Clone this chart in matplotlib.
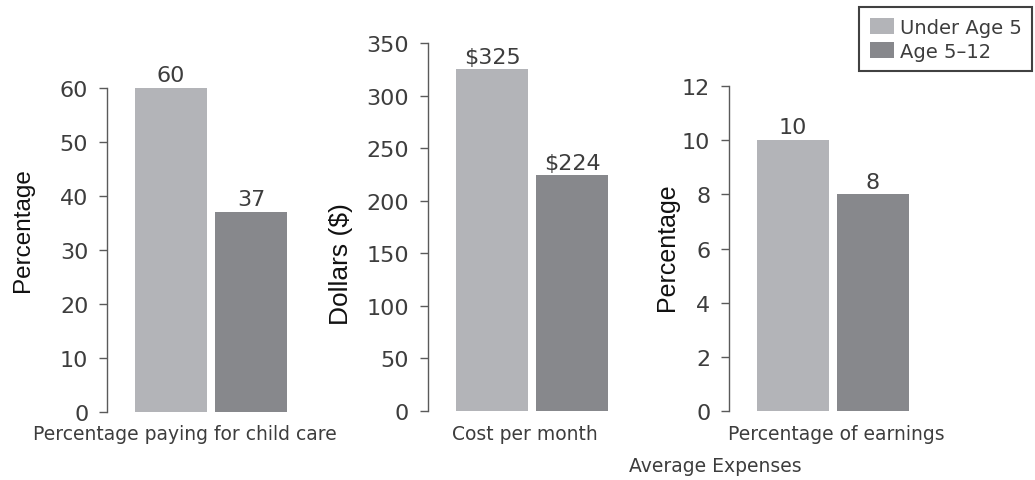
import matplotlib
matplotlib.use("Agg")
import matplotlib.pyplot as plt
from matplotlib.patches import Patch

plt.rcParams['font.family'] = ['DejaVu Sans']

# Data
groups = ["Under Age 5", "Age 5\u201312"]
panel_titles = ["Percentage paying for child care", "Cost per month", "Percentage of earnings"]
panel_ylabels = ["Percentage", "Dollars ($)", "Percentage"]
paying_pct = [60, 37]
monthly_cost = [325, 224]
earnings_pct = [10, 8]
value_labels = [["60", "37"], ["$325", "$224"], ["10", "8"]]
y_ticks = [list(range(0, 61, 10)), list(range(0, 351, 50)), list(range(0, 13, 2))]
xlabel_common = "Average Expenses"

colors = ["#b3b4b8", "#87888c"]
text_color = "#3d3d3d"
axis_color = "#5a5a5a"

W, H = 1035, 481
fig = plt.figure(figsize=(W / 100, H / 100), dpi=100)


def fx(px):
    return px / W


def fy(py):
    return 1 - py / H


# axes layout in pixels: (spine x, y of zero, y of top tick)
layout = [(107, 413, 89), (428, 412, 44), (729, 412, 87)]
unit_px = 80
x_left, x_right = -0.8, 1.7
series = [paying_pct, monthly_cost, earnings_pct]

for i, (sx, y0, ytop) in enumerate(layout):
    width_px = (x_right - x_left) * unit_px
    ax = fig.add_axes([fx(sx), fy(y0), fx(width_px), (y0 - ytop) / H])
    vals = series[i]
    ax.bar(range(len(vals)), vals, width=0.91, color=colors, edgecolor="none")
    ax.set_xlim(x_left, x_right)
    ax.set_ylim(y_ticks[i][0], y_ticks[i][-1])
    ax.set_yticks(y_ticks[i])
    ax.set_xticks([])
    for side in ("top", "right", "bottom"):
        ax.spines[side].set_visible(False)
    ax.spines["left"].set_color(axis_color)
    ax.spines["left"].set_linewidth(1.0)
    ax.tick_params(axis="y", direction="out", length=5.5, width=1.0,
                   color=axis_color, labelcolor=text_color, labelsize=16, pad=8)
    for j, v in enumerate(vals):
        ax.annotate(value_labels[i][j], (j, v), xytext=(0, 2), textcoords="offset points",
                    ha="center", va="bottom", fontsize=16, color=text_color,
                    annotation_clip=False)

# category names under each panel
for label, cx in zip(panel_titles, [185, 525, 836]):
    fig.text(fx(cx), fy(435), label, ha="center", va="center", fontsize=13.5, color=text_color)

# y-axis titles
for label, (cx, cy), size in zip(panel_ylabels, [(22.5, 230), (341, 264), (667, 247)], [17.5, 19, 18]):
    fig.text(fx(cx), fy(cy), label, rotation=90, ha="center", va="center",
             fontsize=size, color="#111111", family="Liberation Sans")

fig.text(fx(715), fy(466), xlabel_common, ha="center", va="center", fontsize=13.5, color=text_color)

handles = [Patch(facecolor=c, edgecolor="none") for c in colors]
leg = fig.legend(handles, groups, loc="upper left", bbox_to_anchor=(fx(859), fy(8)),
                 bbox_transform=fig.transFigure, borderaxespad=0, fontsize=14,
                 frameon=True, fancybox=False, handlelength=1.25, handleheight=0.88,
                 handletextpad=0.3, borderpad=0.55, labelspacing=0.25)
leg.get_frame().set_edgecolor("#111111")
leg.get_frame().set_linewidth(1.5)
for t in leg.get_texts():
    t.set_color(text_color)

fig.savefig("out.png", dpi=100)
